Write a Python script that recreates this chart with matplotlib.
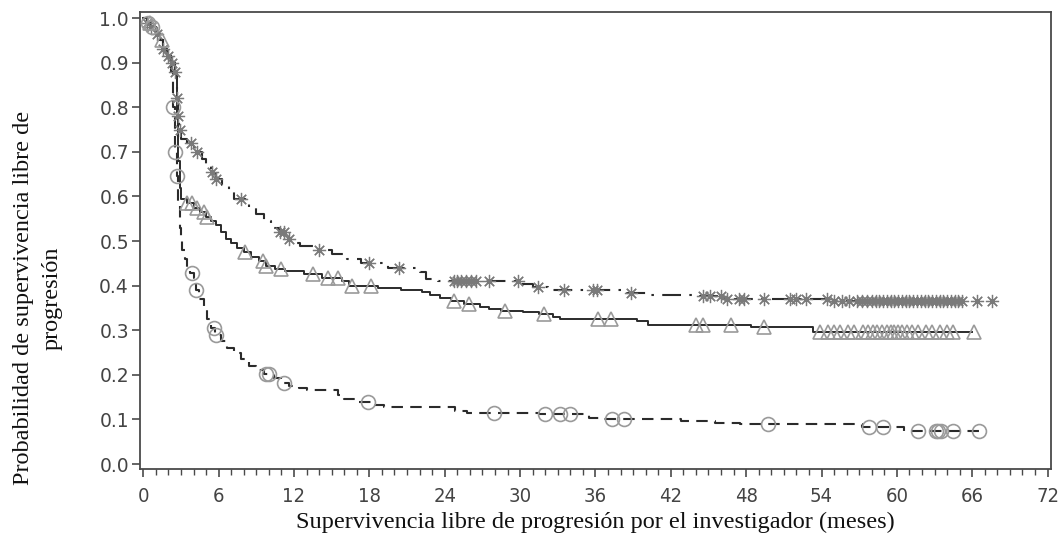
import numpy as np
import matplotlib
matplotlib.use("Agg")
import matplotlib.pyplot as plt
from matplotlib.ticker import MultipleLocator

# ---------------- data ----------------
# Kaplan-Meier step curves: event times (months) and survival after each step
top_t = [0, 0.3, 0.6, 1.0, 1.3, 1.6, 1.9, 2.2, 2.5, 2.65, 2.75, 2.85, 3.0, 3.5, 4.0, 4.3, 4.7, 5.0,
         5.4, 5.8, 6.3, 6.8, 7.2, 8.4, 9.0, 9.6, 10.2, 10.8, 11.3, 11.8, 12.5, 13.5, 15.0, 16.2,
         17.3, 19.5, 22.0, 22.5, 23.5, 30.0, 31.0, 32.2, 38.5, 40.0, 44.3, 46.3, 54.8, 65.3]
top_s = [1.0, 0.99, 0.98, 0.965, 0.95, 0.93, 0.915, 0.90, 0.88, 0.82, 0.78, 0.75, 0.73, 0.72, 0.71,
         0.70, 0.685, 0.67, 0.655, 0.64, 0.625, 0.61, 0.595, 0.575, 0.56, 0.545, 0.53, 0.52, 0.505,
         0.495, 0.488, 0.48, 0.47, 0.46, 0.45, 0.44, 0.43, 0.415, 0.41, 0.404, 0.396, 0.39, 0.384,
         0.38, 0.377, 0.37, 0.365, 0.365]

mid_t = [0, 0.3, 0.6, 1.0, 1.3, 1.6, 1.9, 2.2, 2.5, 2.7, 2.8, 2.9, 3.0, 3.5, 4.0, 4.5, 5.0, 5.4, 5.8,
         6.2, 6.6, 7.0, 7.5, 8.0, 8.6, 9.2, 9.8, 10.5, 11.3, 12.8, 14.2, 15.8, 16.4, 18.7, 20.5, 22.2,
         22.8, 23.6, 24.5, 25.5, 26.8, 27.5, 28.5, 30.2, 31.5, 32.6, 33.2, 39.3, 40.2, 48.4, 53.3, 66.0]
mid_s = [1.0, 0.99, 0.98, 0.965, 0.95, 0.93, 0.915, 0.90, 0.88, 0.78, 0.68, 0.62, 0.595, 0.585, 0.575,
         0.565, 0.555, 0.545, 0.535, 0.52, 0.505, 0.495, 0.485, 0.475, 0.465, 0.455, 0.445, 0.438,
         0.432, 0.427, 0.418, 0.41, 0.40, 0.395, 0.39, 0.385, 0.38, 0.372, 0.366, 0.36, 0.353, 0.348,
         0.344, 0.34, 0.337, 0.33, 0.326, 0.321, 0.312, 0.307, 0.296, 0.296]

bot_t = [0, 0.3, 0.6, 1.0, 1.3, 1.6, 1.9, 2.2, 2.35, 2.5, 2.65, 2.8, 2.9, 3.0, 3.1, 3.3, 3.5, 3.7, 4.0,
         4.2, 4.4, 4.8, 5.1, 5.4, 5.7, 6.2, 6.7, 7.2, 7.8, 8.4, 9.0, 9.6, 10.4, 11.0, 11.6, 12.4, 13.0,
         15.5, 16.0, 17.0, 18.2, 19.2, 24.8, 25.8, 31.5, 35.5, 36.5, 42.8, 45.5, 47.5, 57.2, 60.6, 66.9]
bot_s = [1.0, 0.99, 0.98, 0.965, 0.95, 0.93, 0.915, 0.88, 0.80, 0.70, 0.645, 0.58, 0.53, 0.50, 0.48,
         0.46, 0.44, 0.428, 0.418, 0.39, 0.37, 0.345, 0.325, 0.305, 0.29, 0.275, 0.26, 0.25, 0.235,
         0.22, 0.21, 0.202, 0.192, 0.182, 0.176, 0.17, 0.166, 0.155, 0.146, 0.14, 0.132, 0.127, 0.12,
         0.115, 0.112, 0.104, 0.101, 0.097, 0.092, 0.09, 0.083, 0.074, 0.074]

# censoring times (months)
top_cens = [0.3, 0.6, 1.1, 1.6, 2.0, 2.3, 2.5, 2.7, 2.8, 2.9, 3.8, 4.3, 5.5, 5.8, 7.8, 10.9, 11.2,
            11.6, 14.0, 18.0, 20.4, 24.7, 25.0, 25.3, 25.7, 26.1, 26.5, 27.5, 29.8, 31.4, 33.5, 35.8,
            36.1, 38.8, 44.6, 45.1, 46.0, 46.5, 47.4, 47.8, 49.4, 51.5, 52.0, 52.8, 54.4, 55.0, 55.6,
            56.2, 56.8, 57.2, 57.6, 58.0, 58.3, 58.6, 58.9, 59.2, 59.5, 59.8, 60.1, 60.4, 60.7, 61.0,
            61.3, 61.6, 61.9, 62.2, 62.5, 62.8, 63.1, 63.4, 63.7, 64.0, 64.3, 64.6, 64.9, 65.2, 66.4,
            67.6]
mid_cens = [0.5, 1.5, 3.5, 3.9, 4.3, 4.8, 5.1, 8.1, 9.5, 9.8, 11.0, 13.5, 14.7, 15.5, 16.6, 18.1,
            24.7, 25.9, 28.8, 31.9, 36.2, 37.2, 44.0, 44.6, 46.8, 49.4, 53.9, 54.5, 55.0, 55.5, 56.1,
            56.6, 57.3, 57.7, 58.1, 58.4, 58.8, 59.2, 59.5, 59.8, 60.1, 60.4, 60.8, 61.2, 61.7, 62.3,
            62.8, 63.4, 64.0, 64.5, 66.1]
bot_cens = [0.4, 0.7, 2.4, 2.55, 2.7, 3.9, 4.2, 5.6, 5.8, 9.8, 10.0, 11.2, 17.9, 27.9, 32.0, 33.2,
            34.0, 37.3, 38.3, 49.7, 57.8, 58.9, 61.7, 63.1, 63.3, 63.5, 64.5, 66.5]

x_ticks = [0, 6, 12, 18, 24, 30, 36, 42, 48, 54, 60, 66, 72]
y_ticks = [0.0, 0.1, 0.2, 0.3, 0.4, 0.5, 0.6, 0.7, 0.8, 0.9, 1.0]

xlabel = "Supervivencia libre de progresión por el investigador (meses)"
ylabel = "Probabilidad de supervivencia libre de\nprogresión"


def surv_at(t_list, s_list, times):
    t = np.asarray(t_list)
    s = np.asarray(s_list)
    idx = np.searchsorted(t, np.asarray(times), side="right") - 1
    idx = np.clip(idx, 0, len(s) - 1)
    return s[idx]


fig = plt.figure(figsize=(10.6, 5.41), dpi=100)
ax = fig.add_axes([140 / 1060, 1 - 469 / 541, (1051 - 140) / 1060, (469 - 11.7) / 541])

line_col = "#2b2b2b"

# curves
ax.step(top_t, top_s, where="post", color=line_col, lw=1.5, linestyle=(0, (9, 4, 1.2, 4)), zorder=3)
ax.step(mid_t, mid_s, where="post", color=line_col, lw=1.4, linestyle="-", zorder=3)
ax.step(bot_t, bot_s, where="post", color=line_col, lw=1.5, linestyle=(0, (5.5, 3.5)), zorder=3)

# censor marks
ax.plot(top_cens, surv_at(top_t, top_s, top_cens), linestyle="none", marker=(8, 2, 0),
        ms=9.5, mew=0.9, color="#7a7a7a", zorder=4)
ax.plot(mid_cens, surv_at(mid_t, mid_s, mid_cens), linestyle="none", marker="^", ms=9.5,
        mfc="none", mec="#9a9a9a", mew=1.2, zorder=4)
ax.plot(bot_cens, surv_at(bot_t, bot_s, bot_cens), linestyle="none", marker="o", ms=10,
        mfc="none", mec="#9a9a9a", mew=1.2, zorder=4)

# axes
ax.set_xlim(-0.26, 72.27)
ax.set_ylim(-0.011, 1.0143)
ax.set_xticks(x_ticks)
ax.set_yticks(y_ticks)
ax.set_yticklabels([f"{v:.1f}" for v in y_ticks])
ax.xaxis.set_minor_locator(MultipleLocator(1))

for sp in ax.spines.values():
    sp.set_color("#4a4a4a")
    sp.set_linewidth(1.3)

ax.tick_params(axis="both", which="major", direction="out", length=6, width=1.2, color="#4a4a4a")
ax.tick_params(axis="x", which="minor", direction="out", length=4, width=1.0, color="#4a4a4a")
ax.tick_params(axis="y", which="major", pad=2)
ax.tick_params(axis="x", which="major", pad=7)

for lab in ax.get_yticklabels():
    lab.set_fontfamily(["DejaVu Sans"])
    lab.set_fontsize(13.5)
    lab.set_color("#444444")
for lab in ax.get_xticklabels():
    lab.set_fontfamily(["DejaVu Sans"])
    lab.set_fontstretch("condensed")
    lab.set_fontsize(14.5)
    lab.set_color("#444444")

fig.text(595 / 1060, 1 - 522 / 541, xlabel, ha="center", va="center",
         fontfamily=["Liberation Serif"], fontsize=17.5, color="#111111")
fig.text(38 / 1060, 1 - 298 / 541, ylabel, ha="center", va="center", rotation=90,
         multialignment="center", linespacing=1.5,
         fontfamily=["Liberation Serif"], fontsize=17.5, color="#111111")

fig.savefig("out.png", dpi=100)
